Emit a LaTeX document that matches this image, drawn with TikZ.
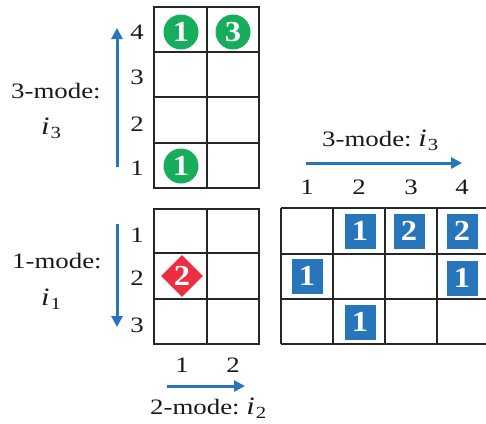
\documentclass[tikz,border=0pt]{standalone}
\usepackage{fontspec}
\setmainfont{Liberation Serif}
\newfontfamily\lblfont{Liberation Serif}[FakeStretch=1.22]
\newfontfamily\valfont{Liberation Serif}[FakeStretch=1.12]
\usepackage{graphicx}
\usetikzlibrary{arrows.meta,shapes.geometric}

\definecolor{modeblue}{RGB}{39,118,187}
\definecolor{entrygreen}{RGB}{22,173,92}
\definecolor{entryred}{RGB}{236,45,66}

\tikzset{
  gridline/.style={line width=1.5pt, draw=black!85},
  lbl/.style={font=\lblfont\fontsize{22}{26}\selectfont, inner sep=0pt, text=black!90},
  val/.style={font=\valfont\fontsize{29}{31}\selectfont\bfseries, text=white, inner sep=0pt},
  gcirc/.style={val, circle, fill=entrygreen, minimum size=35pt},
  rdiam/.style={val, diamond, fill=entryred, minimum width=42pt, minimum height=42pt},
  bsq/.style={val, rectangle, fill=modeblue, minimum width=31pt, minimum height=35pt},
  modearrow/.style={draw=modeblue, line width=3pt, -{Triangle[length=11pt,width=11pt]}},
}
% italic index variable with a lowered digit
\newcommand{\ivar}[1]{{\fontsize{25}{25}\selectfont\textit{i}}\kern1pt\raisebox{-4.5pt}{\fontsize{17}{17}\selectfont #1}}

\begin{document}
\begin{tikzpicture}[x=1pt, y=-1pt]
\useasboundingbox (0,0) rectangle (486,423);

% ---- 3-mode slice (i3 by i2) ----
\draw[gridline] (154,7) rectangle (259,188);
\draw[gridline] (207,7) -- (207,188);
\foreach \yy in {52,97,143} \draw[gridline] (154,\yy) -- (259,\yy);

\node[lbl] (ta4) at (137,32) {4};
\node[lbl] (ta3) at (137,77) {3};
\node[lbl] (ta2) at (137,124) {2};
\node[lbl] (ta1) at (137,168) {1};

\node[gcirc] (c41) at (181,32) {1};
\node[gcirc] (c42) at (233,32) {3};
\node[gcirc] (c11) at (181,166) {1};

\coordinate (upS) at (117,167);
\coordinate (upE) at (117,28);
\draw[modearrow] (upS) -- (upE);
\node[lbl, anchor=base west] (tm) at (11,98) {3-mode:};
\node[lbl, anchor=base west] (tv) at (41,134) {\ivar{3}};

% ---- 1-mode slice (i1 by i2) ----
\draw[gridline] (154,209) rectangle (259,344);
\draw[gridline] (207,209) -- (207,344);
\foreach \yy in {253,299} \draw[gridline] (154,\yy) -- (259,\yy);

\node[lbl] (ba1) at (137,235) {1};
\node[lbl] (ba2) at (137,278) {2};
\node[lbl] (ba3) at (137,325) {3};
\node[lbl] (bc1) at (182,365) {1};
\node[lbl] (bc2) at (233,365) {2};

\node[rdiam] (d21) at (182,276) {2};

\coordinate (dnS) at (117,224);
\coordinate (dnE) at (117,327);
\draw[modearrow] (dnS) -- (dnE);
\node[lbl, anchor=base west] (bm) at (12,268) {1-mode:};
\node[lbl, anchor=base west] (bv) at (41,305) {\ivar{1}};

\coordinate (rtS) at (167,386);
\coordinate (rtE) at (245,386);
\draw[modearrow] (rtS) -- (rtE);
\node[lbl, anchor=base west] (hm) at (150,414) {2-mode:\ \ivar{2}};

% ---- unfolded matrix (i1 by i3) ----
\draw[gridline] (281,208) -- (488,208);
\draw[gridline] (281,344) -- (488,344);
\foreach \yy in {254,299} \draw[gridline] (281,\yy) -- (488,\yy);
\foreach \xx in {281,333,385,437} \draw[gridline] (\xx,208) -- (\xx,344);

\foreach \xx/\t in {307/1,359/2,411/3,462/4}
  \node[lbl] (rc\t) at (\xx,187) {\t};

\coordinate (maS) at (306,163);
\coordinate (maE) at (462,163);
\draw[modearrow] (maS) -- (maE);
\node[lbl, anchor=base west] (mm) at (322,146) {3-mode:\ \ivar{3}};

\node[bsq] (s12) at (360,231) {1};
\node[bsq] (s13) at (409,231) {2};
\node[bsq] (s14) at (462,231) {2};
\node[bsq] (s21) at (307,276) {1};
\node[bsq] (s24) at (462,278) {1};
\node[bsq] (s32) at (360,322) {1};
\end{tikzpicture}
\end{document}
